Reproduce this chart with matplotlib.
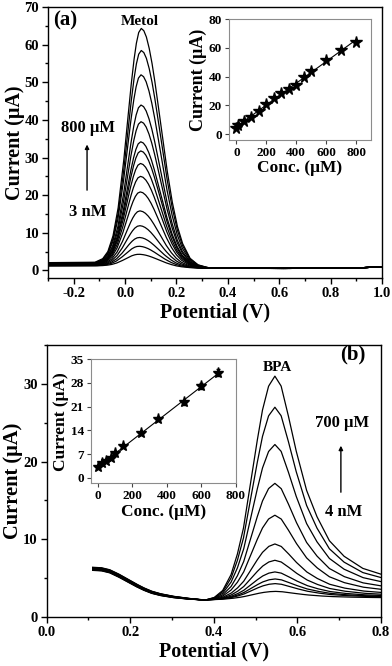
import numpy as np
import matplotlib
matplotlib.use("Agg")
import matplotlib.pyplot as plt
from matplotlib.ticker import MultipleLocator

plt.rcParams['font.family'] = ['Liberation Serif', 'DejaVu Serif']
plt.rcParams['font.weight'] = 'bold'
plt.rcParams['axes.labelweight'] = 'bold'

# ---------------- Panel (a): Metol ----------------
peak_a = [4.5, 6.6, 8.9, 12.0, 15.9, 20.9, 25.0, 28.4, 31.7, 34.1, 39.4, 43.8, 51.8, 58.2, 64.0]
peak_pos_a = [0.055, 0.055, 0.056, 0.057, 0.058, 0.059, 0.060, 0.060, 0.061, 0.061, 0.062, 0.062, 0.062, 0.063, 0.063]
left_level_a = [1.2, 1.25, 1.3, 1.35, 1.4, 1.45, 1.5, 1.55, 1.6, 1.65, 1.7, 1.75, 1.8, 1.9, 2.0]
# digitized peak shape (offset from peak potential, normalised height)
tpl_a_dv = [-0.50, -0.18, -0.15, -0.13, -0.11, -0.09, -0.07, -0.06, -0.05, -0.04, -0.03, -0.02,
            -0.01, 0.0, 0.01, 0.02, 0.03, 0.04, 0.05, 0.06, 0.07, 0.08, 0.09, 0.10, 0.12, 0.14,
            0.16, 0.19, 0.22, 0.26, 0.30, 1.2]
tpl_a_y = [0.0, 0.003, 0.018, 0.049, 0.116, 0.236, 0.418, 0.527, 0.641, 0.752, 0.852, 0.931,
           0.982, 1.0, 0.991, 0.965, 0.923, 0.868, 0.801, 0.726, 0.647, 0.566, 0.487, 0.411,
           0.278, 0.175, 0.103, 0.040, 0.014, 0.0025, 0.0, 0.0]
base_a_v = [-0.30, -0.08, 0.0, 0.1, 0.2, 0.3, 0.5, 0.7, 0.9, 1.0]
base_a_i = [1.5, 1.5, 1.3, 1.0, 0.75, 0.6, 0.55, 0.55, 0.65, 1.0]
base_a_w = [1.0, 1.0, 0.8, 0.5, 0.2, 0.0, 0.0, 0.0, 0.0, 0.0]

conc_a = [0.003, 10, 50, 100, 150, 200, 250, 300, 350, 400, 450, 500, 600, 700, 800]
cur_a = [4.5, 6.6, 8.9, 12.0, 15.9, 20.9, 25.0, 28.4, 31.7, 34.1, 39.4, 43.8, 51.8, 58.2, 64.0]

# ---------------- Panel (b): BPA ----------------
peak_b = [3.3, 4.3, 4.9, 5.8, 7.3, 9.4, 13.1, 17.2, 22.2, 27.0, 31.0]
peak_pos_b = 0.546
left_off_b = [-0.2, -0.16, -0.12, -0.08, -0.04, 0.0, 0.04, 0.08, 0.12, 0.16, 0.2]
tpl_b_dv = [-0.50, -0.165, -0.145, -0.125, -0.105, -0.09, -0.075, -0.06, -0.045, -0.03, -0.015,
            0.0, 0.015, 0.03, 0.05, 0.075, 0.10, 0.13, 0.165, 0.21, 0.26]
tpl_b_y = [0.0, 0.0, 0.01, 0.04, 0.11, 0.2, 0.32, 0.5, 0.68, 0.845, 0.955,
           1.0, 0.955, 0.84, 0.67, 0.49, 0.37, 0.26, 0.19, 0.135, 0.105]
base_b_v = [0.11, 0.13, 0.15, 0.17, 0.19, 0.21, 0.23, 0.25, 0.27, 0.30, 0.33, 0.36, 0.38, 0.42, 0.5, 0.6, 0.7, 0.8]
base_b_i = [6.2, 6.15, 5.9, 5.4, 4.8, 4.2, 3.65, 3.2, 2.9, 2.6, 2.4, 2.25, 2.2, 2.25, 2.35, 2.4, 2.4, 2.4]
base_b_w = [1, 1, 1, 1, 0.95, 0.9, 0.8, 0.7, 0.6, 0.45, 0.3, 0.1, 0, 0, 0, 0, 0, 0]

conc_b = [0.004, 25, 50, 80, 100, 150, 250, 350, 500, 600, 700]
cur_b = [3.3, 4.3, 4.9, 5.8, 7.3, 9.4, 13.1, 17.2, 22.2, 27.0, 31.0]
err_b = [0.3, 0.3, 0.3, 0.3, 0.4, 0.4, 0.5, 0.6, 0.8, 0.9, 1.0]

xt_a = [-0.2, 0.0, 0.2, 0.4, 0.6, 0.8, 1.0]
xt_b = [0.0, 0.2, 0.4, 0.6, 0.8]

W, H = 392, 666
fig = plt.figure(figsize=(W / 100, H / 100), dpi=100)


def px_axes(l, r, t, b):
    return fig.add_axes([l / W, 1 - b / H, (r - l) / W, (b - t) / H])


def style_main(ax):
    for s in ax.spines.values():
        s.set_linewidth(1.0)
    ax.tick_params(which='both', direction='out', top=False, right=False, labelsize=10.5, width=1.0, pad=2.5)
    ax.tick_params(which='major', length=4)
    ax.tick_params(which='minor', length=2.5)


def style_inset(ax):
    for s in ax.spines.values():
        s.set_linewidth(0.8)
        s.set_color('#8c8c8c')
    ax.tick_params(which='both', direction='out', top=False, right=False, labelsize=9.5,
                   width=0.8, length=3, color='#444444', pad=2)


# ---- Panel a main ----
ax1 = px_axes(48, 382, 7, 278)
grid_a = np.linspace(-0.3, 1.0, 1301)
base_a = np.interp(grid_a, base_a_v, base_a_i)
wa = np.interp(grid_a, base_a_v, base_a_w)
for h, p, ll in zip(peak_a, peak_pos_a, left_level_a):
    b0 = np.interp(p, base_a_v, base_a_i)
    shape = np.interp(grid_a - p, tpl_a_dv, tpl_a_y)
    curve = base_a + (ll - 1.5) * wa + (h - b0) * shape
    ax1.plot(grid_a, curve, color='black', lw=0.9)
ax1.set_xlim(-0.3, 1.0)
ax1.set_ylim(-2, 70)
ax1.set_xticks(xt_a)
ax1.set_xticklabels(['%.1f' % v for v in xt_a])
ax1.xaxis.set_minor_locator(MultipleLocator(0.1))
ax1.yaxis.set_major_locator(MultipleLocator(10))
ax1.yaxis.set_minor_locator(MultipleLocator(5))
style_main(ax1)
ax1.set_xlabel('Potential (V)', fontsize=14.5, labelpad=2)
ax1.set_ylabel('Current (μA)', fontsize=14.5)
ax1.yaxis.set_label_coords(-0.069, 0.5)
ax1.text(-0.234, 66.4, '(a)', fontsize=15, ha='center', va='center', fontweight='bold')
ax1.text(0.058, 66.1, 'Metol', fontsize=11, ha='center', va='center', fontweight='bold')
ax1.text(-0.144, 37.9, '800 μM', fontsize=12, ha='center', va='center', fontweight='bold')
ax1.text(-0.144, 15.6, '3 nM', fontsize=12, ha='center', va='center', fontweight='bold')
ax1.annotate('', xy=(-0.148, 34.2), xytext=(-0.148, 20.6),
             arrowprops=dict(arrowstyle='-|>', color='black', lw=1.0, mutation_scale=6))

# ---- Panel a inset ----
ai = px_axes(229, 371, 19, 140)
ai.plot(conc_a, cur_a, linestyle='none', marker='*', color='black', markersize=8.5)
ka, ba = np.polyfit(conc_a, cur_a, 1)
xa = np.array([0, 800])
ai.plot(xa, ka * xa + ba, color='black', lw=0.8)
ai.set_xlim(-50, 900)
ai.set_ylim(-4, 80)
ai.set_xticks([0, 200, 400, 600, 800])
ai.set_yticks([0, 20, 40, 60, 80])
style_inset(ai)
ai.set_xlabel('Conc. (μM)', fontsize=12.5, labelpad=1)
ai.set_ylabel('Current (μA)', fontsize=13, labelpad=1)

# ---- Panel b main ----
ax2 = px_axes(46.7, 381, 345, 617)
grid_b = np.linspace(0.11, 0.8, 1001)
base_b = np.interp(grid_b, base_b_v, base_b_i)
wb = np.interp(grid_b, base_b_v, base_b_w)
b0b = np.interp(peak_pos_b, base_b_v, base_b_i)
for h, off in zip(peak_b, left_off_b):
    shape = np.interp(grid_b - peak_pos_b, tpl_b_dv, tpl_b_y)
    curve = base_b + off * wb + (h - b0b) * shape
    ax2.plot(grid_b, curve, color='black', lw=0.9)
ax2.set_xlim(0.0, 0.8)
ax2.set_ylim(0, 35)
ax2.set_xticks(xt_b)
ax2.set_xticklabels(['%.1f' % v for v in xt_b])
ax2.xaxis.set_minor_locator(MultipleLocator(0.1))
ax2.set_yticks([0, 10, 20, 30])
ax2.yaxis.set_minor_locator(MultipleLocator(5))
style_main(ax2)
ax2.set_xlabel('Potential (V)', fontsize=14.5, labelpad=2)
ax2.set_ylabel('Current (μA)', fontsize=14.8)
ax2.yaxis.set_label_coords(-0.071, 0.5)
ax2.text(0.733, 33.8, '(b)', fontsize=15, ha='center', va='center', fontweight='bold')
ax2.text(0.551, 32.1, 'BPA', fontsize=11, ha='center', va='center', fontweight='bold')
ax2.text(0.706, 24.9, '700 μM', fontsize=12, ha='center', va='center', fontweight='bold')
ax2.text(0.711, 13.5, '4 nM', fontsize=12, ha='center', va='center', fontweight='bold')
ax2.annotate('', xy=(0.704, 22.4), xytext=(0.704, 15.7),
             arrowprops=dict(arrowstyle='-|>', color='black', lw=1.0, mutation_scale=6))

# ---- Panel b inset ----
bi = px_axes(90.7, 235.7, 359, 483.3)
bi.errorbar(conc_b, cur_b, yerr=err_b, linestyle='none', marker='*', color='black',
            markersize=8, elinewidth=0.7, capsize=1.5)
kb, bb = np.polyfit(conc_b, cur_b, 1)
xb = np.array([0, 700])
bi.plot(xb, kb * xb + bb, color='black', lw=0.8)
bi.set_xlim(-40, 800)
bi.set_ylim(-1.6, 35)
bi.set_xticks([0, 200, 400, 600, 800])
bi.set_yticks([0, 7, 14, 21, 28, 35])
style_inset(bi)
bi.set_xlabel('Conc. (μM)', fontsize=12.5, labelpad=1)
bi.set_ylabel('Current (μA)', fontsize=12.5, labelpad=1)

fig.savefig('out.png', dpi=100)
